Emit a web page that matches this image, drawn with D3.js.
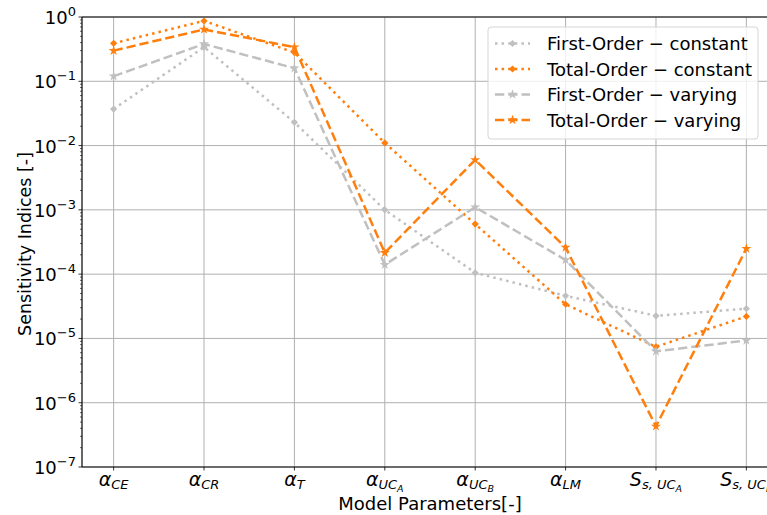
<!DOCTYPE html>
<html lang="en">
<head>
<meta charset="utf-8">
<title>sensitivity indices</title>
<script src="https://d3js.org/d3.v7.min.js"></script>
<style>
  body{margin:0;background:#fff;font-family:"DejaVu Sans",sans-serif;}
  svg text{font-family:"DejaVu Sans",sans-serif;}
</style>
</head>
<body>
<div id="chart"></div>
<script>
// parameters on the x axis (label parts: main symbol, subscript, sub-subscript)
var params = [
  {sym:"α", sub:"CE", sub2:""},
  {sym:"α", sub:"CR", sub2:""},
  {sym:"α", sub:"T", sub2:""},
  {sym:"α", sub:"UC", sub2:"A"},
  {sym:"α", sub:"UC", sub2:"B"},
  {sym:"α", sub:"LM", sub2:""},
  {sym:"S", sub:"s, UC", sub2:"A"},
  {sym:"S", sub:"s, UC", sub2:"B"}
]
var firstConstant = [0.037, 0.34, 0.023, 1.0e-3, 1.05e-4, 4.6e-5, 2.25e-5, 2.9e-5]
var totalConstant = [0.39, 0.87, 0.28, 0.011, 6.0e-4, 3.4e-5, 7.4e-6, 2.2e-5]
var firstVarying  = [0.12, 0.38, 0.16, 1.4e-4, 1.1e-3, 1.66e-4, 6.3e-6, 9.3e-6]
var totalVarying  = [0.30, 0.64, 0.34, 2.15e-4, 6.0e-3, 2.6e-4, 4.3e-7, 2.5e-4]
var yTickExps = [0, -1, -2, -3, -4, -5, -6, -7]

var series = [
  {name:"First-Order \u2212 constant", values:firstConstant, color:"#c0c0c0", dash:"2.5,4.1", marker:"D"},
  {name:"Total-Order \u2212 constant", values:totalConstant, color:"#ff7f0e", dash:"2.5,4.1", marker:"D"},
  {name:"First-Order \u2212 varying", values:firstVarying, color:"#c0c0c0", dash:"9.25,4", marker:"*"},
  {name:"Total-Order \u2212 varying", values:totalVarying, color:"#ff7f0e", dash:"9.25,4", marker:"*"}
]

var w = 767, h = 515
var pLeft = 82, pRight = 778, pTop = 17, pBottom = 467

var svg = d3.select("#chart").append("svg")
  .attr("width", w).attr("height", h)

var xScale = d3.scaleLinear().domain([-0.35, params.length - 1 + 0.35]).range([pLeft, pRight])
var yScale = d3.scaleLog().domain([1e-7, 1]).range([pBottom, pTop])

// grid
var grid = svg.append("g")
grid.selectAll("line.gx").data(d3.range(params.length)).enter().append("line")
  .attr("x1", function(d){ return xScale(d) }).attr("x2", function(d){ return xScale(d) })
  .attr("y1", pTop).attr("y2", pBottom)
  .attr("stroke", "#b0b0b0").attr("stroke-width", 1)
grid.selectAll("line.gy").data(yTickExps).enter().append("line")
  .attr("x1", pLeft).attr("x2", pRight)
  .attr("y1", function(d){ return yScale(Math.pow(10, d)) })
  .attr("y2", function(d){ return yScale(Math.pow(10, d)) })
  .attr("stroke", "#b0b0b0").attr("stroke-width", 1)

// spines
svg.append("line").attr("x1", pLeft).attr("x2", pLeft).attr("y1", pTop).attr("y2", pBottom)
  .attr("stroke", "#000").attr("stroke-width", 1.2)
svg.append("line").attr("x1", pLeft).attr("x2", pRight).attr("y1", pBottom).attr("y2", pBottom)
  .attr("stroke", "#000").attr("stroke-width", 1.2)
svg.append("line").attr("x1", pLeft).attr("x2", pRight).attr("y1", pTop).attr("y2", pTop)
  .attr("stroke", "#000").attr("stroke-width", 1.2)

// y ticks (major + minor)
var minor = []
for (var e = -7; e < 0; e++) {
  for (var m = 2; m <= 9; m++) minor.push(m * Math.pow(10, e))
}
svg.selectAll("line.ymin").data(minor).enter().append("line")
  .attr("x1", pLeft - 2).attr("x2", pLeft)
  .attr("y1", function(d){ return yScale(d) }).attr("y2", function(d){ return yScale(d) })
  .attr("stroke", "#000").attr("stroke-width", 0.6)
svg.selectAll("line.ymaj").data(yTickExps).enter().append("line")
  .attr("x1", pLeft - 3.5).attr("x2", pLeft)
  .attr("y1", function(d){ return yScale(Math.pow(10, d)) })
  .attr("y2", function(d){ return yScale(Math.pow(10, d)) })
  .attr("stroke", "#000").attr("stroke-width", 0.8)

var ylab = svg.selectAll("text.ytick").data(yTickExps).enter().append("text")
  .attr("x", pLeft - 6)
  .attr("y", function(d){ return yScale(Math.pow(10, d)) + 7 })
  .attr("text-anchor", "end")
  .attr("font-size", 18)
ylab.append("tspan").text("10")
ylab.append("tspan").attr("font-size", 13).attr("dy", -8)
  .text(function(d){ return d === 0 ? "0" : "\u2212" + (-d) })

// x ticks
svg.selectAll("line.xmaj").data(d3.range(params.length)).enter().append("line")
  .attr("x1", function(d){ return xScale(d) }).attr("x2", function(d){ return xScale(d) })
  .attr("y1", pBottom).attr("y2", pBottom + 3.5)
  .attr("stroke", "#000").attr("stroke-width", 0.8)

var xlab = svg.selectAll("text.xtick").data(params).enter().append("text")
  .attr("x", function(d, i){ return xScale(i) })
  .attr("y", 486)
  .attr("text-anchor", "middle")
  .attr("font-size", 19)
  .attr("font-style", "italic")
xlab.append("tspan").text(function(d){ return d.sym })
xlab.append("tspan").attr("font-size", 13).attr("dy", 3).text(function(d){ return d.sub })
xlab.append("tspan").attr("font-size", 9.5).attr("dy", 2.5).text(function(d){ return d.sub2 })

// axis titles
svg.append("text").attr("x", (pLeft + pRight) / 2).attr("y", 510)
  .attr("text-anchor", "middle").attr("font-size", 18).text("Model Parameters[-]")
svg.append("text").attr("transform", "translate(31,244) rotate(-90)")
  .attr("text-anchor", "middle").attr("font-size", 17.5)
  .text("Sensitivity Indices [-]")

// lines and markers
var line = d3.line()
  .x(function(d, i){ return xScale(i) })
  .y(function(d){ return yScale(d) })

var diamond = d3.symbol().type(d3.symbolSquare).size(26)
var star = d3.symbol().type(d3.symbolStar).size(32)

function drawMarker(g, s, x, y) {
  if (s.marker === "D") {
    g.append("path").attr("d", diamond())
      .attr("transform", "translate(" + x + "," + y + ") rotate(45)")
      .attr("fill", s.color)
  } else {
    g.append("path").attr("d", star())
      .attr("transform", "translate(" + x + "," + y + ")")
      .attr("fill", s.color)
  }
}

series.forEach(function(s){
  var g = svg.append("g")
  g.append("path").datum(s.values)
    .attr("d", line)
    .attr("fill", "none")
    .attr("stroke", s.color)
    .attr("stroke-width", 2.5)
    .attr("stroke-dasharray", s.dash)
  s.values.forEach(function(v, i){ drawMarker(g, s, xScale(i), yScale(v)) })
})

// legend
var lg = svg.append("g")
lg.append("rect").attr("x", 488).attr("y", 27).attr("width", 270).attr("height", 112)
  .attr("rx", 3).attr("fill", "#fff").attr("fill-opacity", 0.8)
  .attr("stroke", "#d5d5d5").attr("stroke-width", 1)
series.forEach(function(s, i){
  var yy = 43.5 + i * 25.5
  lg.append("line").attr("x1", 495).attr("x2", 530).attr("y1", yy).attr("y2", yy)
    .attr("stroke", s.color).attr("stroke-width", 2.5).attr("stroke-dasharray", s.dash)
  drawMarker(lg, s, 512.5, yy)
  lg.append("text").attr("x", 547).attr("y", yy + 6.5).attr("font-size", 18).text(s.name)
})
</script>
</body>
</html>
